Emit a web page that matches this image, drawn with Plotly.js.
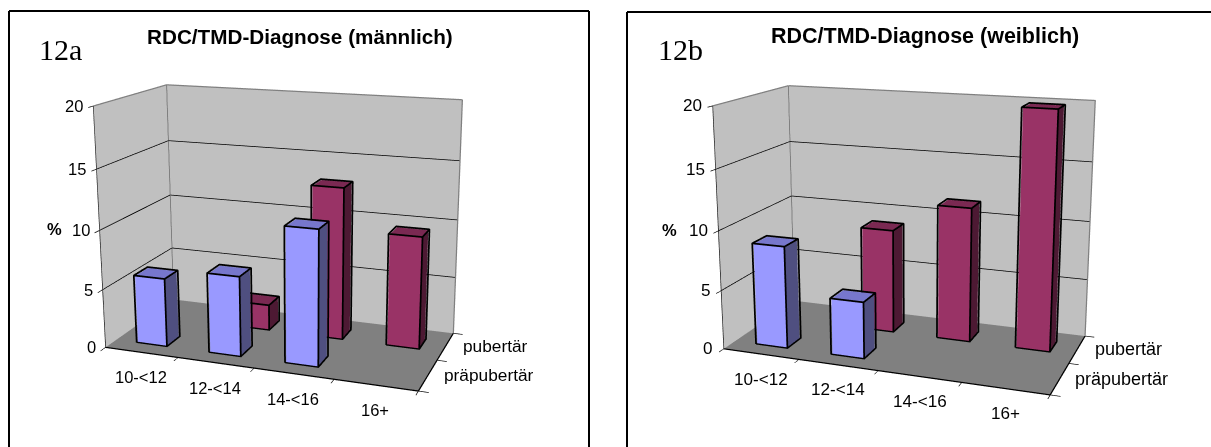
<!DOCTYPE html>
<html><head><meta charset="utf-8"><script src="https://cdn.plot.ly/plotly-3.0.1.min.js"></script>
<style>html,body{margin:0;background:#fff;overflow:hidden;width:1211px;height:447px}#c{position:absolute;left:0;top:-224px;width:1211px;height:894px}</style></head>
<body><div id="c"></div>
<script>
const ageGroups=['10-<12','12-<14','14-<16','16+'];
const stages=['präpubertär','pubertär'];
const malePre=[5.8,6.7,11.2,null];
const malePub=[null,2.2,13.0,9.5];
const femalePre=[8.6,4.7,null,null];
const femalePub=[null,8.9,11.4,19.8];
const percentTicks=[0,5,10,15,20];
const gridLevels=[5,10,15];
const viewA=[1.3521,-3.6036,1.0478,0.0641,0.0533,0,1.1967,0.5765,0.9084];
const viewB=[1.2871,-3.498,0.9729,-0.0097,0.0444,0,1.2,0.5788,0.8817];

const H=894,top0=224;
const py=v=>1-(v+top0)/H, px=v=>v/1211;
const TXT='Liberation Sans, Arial, sans-serif';
const cols={pre:['#9999ff','#7777cc','#4f4f80'],pub:['#993366','#7a2952','#4d1933']};

// Three visible faces of every column plus its outline, built from the value arrays.
function columns(vals,row,c,sc){
 const hw=.2,front=.3,back=.66,e=.012,ez_=.06,faces=[[],[],[]],ex=[],ey=[],ez=[];
 vals.forEach((v,i)=>{if(v==null)return;const x0=i+.5-hw,x1=i+.5+hw,y0=row+front,y1=row+back;
  faces[0].push([[x0,y0,0],[x1,y0,0],[x1,y0,v],[x0,y0,v]]);
  faces[1].push([[x0,y0,v],[x1,y0,v],[x1,y1,v],[x0,y1,v]]);
  faces[2].push([[x1,y0,0],[x1,y1,0],[x1,y1,v],[x1,y0,v]]);
  // the outline sits a hair in front of the faces so the depth test keeps it whole
  const a=x0-e,b=x1+e,f=y0-e,g=y1+e,t=v+ez_;
  const path=[[a,f,0],[b,f,0],[b,g,0],[b,g,t],[a,g,t],[a,f,t],[a,f,0],null,[b,f,0],[b,f,t],[a,f,t],null,[b,f,t],[b,g,t],null];
  path.forEach(q=>{ex.push(q?q[0]:null);ey.push(q?q[1]:null);ez.push(q?q[2]:null);});
 });
 const tr=faces.map((fs,k)=>{const X=[],Y=[],Z=[],I=[],J=[],K=[];fs.forEach(f=>{const n=X.length;f.forEach(q=>{X.push(q[0]);Y.push(q[1]);Z.push(q[2]);});I.push(n,n);J.push(n+1,n+2);K.push(n+2,n+3);});
  return {type:'mesh3d',scene:sc,x:X,y:Y,z:Z,i:I,j:J,k:K,color:c[k],flatshading:true,lighting:{ambient:1,diffuse:0,specular:0,roughness:1,fresnel:0},hoverinfo:'skip',showscale:false};});
 tr.push({type:'scatter3d',scene:sc,mode:'lines',x:ex,y:ey,z:ez,line:{color:'#000',width:3.5},hoverinfo:'skip',showlegend:false});
 return tr;
}
function walls(sc){
 const gx=[],gy=[],gz=[];
 gridLevels.forEach(l=>{gx.push(0,0,4,null);gy.push(0,2,2,null);gz.push(l,l,l,null);});
 return [{type:'scatter3d',scene:sc,mode:'lines',x:gx,y:gy,z:gz,line:{color:'#000',width:1.5},hoverinfo:'skip'},
  {type:'scatter3d',scene:sc,mode:'lines',x:[0,0,4,4,null,0,0],y:[0,2,2,2,null,2,2],z:[20,20,20,0,null,0,20],line:{color:'#808080',width:2.5},hoverinfo:'skip'},
  {type:'scatter3d',scene:sc,mode:'lines',x:[0,0],y:[0,0],z:[0,20],line:{color:'#404040',width:1.5},hoverinfo:'skip'},
  {type:'scatter3d',scene:sc,mode:'lines',x:[0,4,4],y:[0,0,2],z:[0,0,0],line:{color:'#000',width:2.5},hoverinfo:'skip'}];
}
function sceneLayout(f,dom,tickSize,stageSize,catShift,stageShift){
 const F={family:TXT,size:tickSize,color:'#000'},S={family:TXT,size:stageSize,color:'#000'};
 const ann=[];
 percentTicks.forEach(t=>ann.push({x:0,y:0,z:t,text:String(t),showarrow:false,xanchor:'right',yanchor:'middle',xshift:-8,font:F}));
 ageGroups.forEach((g,i)=>ann.push({x:i+.5,y:0,z:0,text:g,showarrow:false,xanchor:'center',yanchor:'middle',xshift:catShift,yshift:-25,font:F}));
 stages.forEach((s,i)=>ann.push({x:4,y:i+.5,z:0,text:s,showarrow:false,xanchor:'left',yanchor:'middle',xshift:stageShift[i],yshift:0,font:S}));
 const ax=(o)=>Object.assign({showgrid:false,zeroline:false,showticklabels:false,showspikes:false,title:{text:''},ticks:'outside',ticklen:8,tickcolor:'#000',tickwidth:1.5,showline:true,linecolor:'#000',linewidth:1},o);
 return {domain:{x:dom,y:[0,1]},aspectmode:'manual',aspectratio:{x:f[6],y:f[7],z:f[8]},camera:{eye:{x:f[0],y:f[1],z:f[2]},center:{x:f[3],y:f[4],z:f[5]},up:{x:0,y:0,z:1},projection:{type:'perspective'}},
 xaxis:ax({range:[0,4],tickvals:[0,1,2,3,4],showbackground:true,backgroundcolor:'#c0c0c0'}),
 yaxis:ax({range:[0,2],tickvals:[0,1,2],showbackground:true,backgroundcolor:'#c0c0c0'}),
 zaxis:ax({range:[0,20],tickvals:percentTicks,showbackground:true,backgroundcolor:'#808080'}),annotations:ann};
}
const frameLine=(x0,y0,x1,y1)=>({type:'line',xref:'paper',yref:'paper',x0:px(x0),x1:px(x1),y0:py(y0),y1:py(y1),line:{color:'#000',width:2}});
const note=(x,y,t,font)=>({xref:'paper',yref:'paper',x:px(x),y:py(y),text:t,showarrow:false,xanchor:'center',yanchor:'middle',font});
const data=[].concat(walls('scene'),columns(malePre,0,cols.pre,'scene'),columns(malePub,1,cols.pub,'scene'),walls('scene2'),columns(femalePre,0,cols.pre,'scene2'),columns(femalePub,1,cols.pub,'scene2'));
const bold=s=>({family:TXT,size:s,color:'#000',weight:'bold'}),ser={family:'Liberation Serif, Times New Roman, serif',size:30,color:'#000'},pct={family:TXT,size:16.5,color:'#000',weight:'bold'};
Plotly.newPlot('c',data,{width:1211,height:H,margin:{l:0,r:0,t:0,b:0,pad:0},showlegend:false,paper_bgcolor:'#fff',scene:sceneLayout(viewA,[0,.5],16.5,17.3,0,[14,16]),scene2:sceneLayout(viewB,[.5,1],17.1,18,1,[14,17]),
 shapes:[frameLine(9,11,589,11),frameLine(9,11,9,447),frameLine(589,11,589,447),frameLine(627,12,1211,12),frameLine(627,12,627,447)],
 annotations:[note(300,37,'RDC/TMD-Diagnose (männlich)',bold(20.7)),note(925,36.5,'RDC/TMD-Diagnose (weiblich)',bold(21.5)),note(61,50,'12a',ser),note(680,50,'12b',ser),note(54,229,'%',pct),note(669,230,'%',pct)]},{displayModeBar:false});
</script></body></html>
